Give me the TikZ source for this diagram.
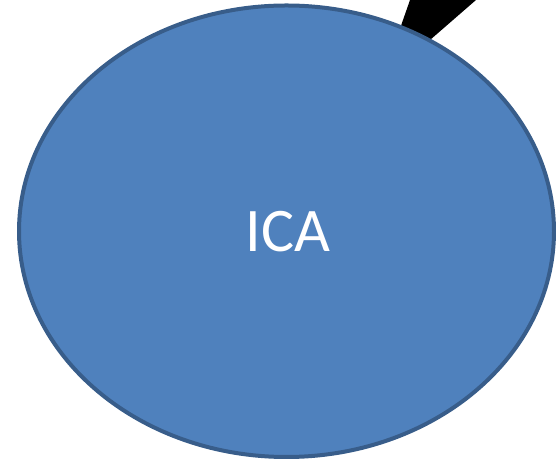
\documentclass[tikz,border=0pt]{standalone}
\usepackage{fontspec}
\usetikzlibrary{shapes.geometric}
\setmainfont{Carlito}
\definecolor{icafill}{HTML}{4F81BD}
\definecolor{icaline}{HTML}{385D8A}
\begin{document}
\begin{tikzpicture}[x=1pt,y=1pt,
  bubble/.style={ellipse, fill=icafill, draw=icaline, line width=4pt,
    minimum width=535pt, minimum height=451.5pt, inner sep=0pt, outer sep=0pt},
  bubbletext/.style={text=white, font=\fontsize{62}{70}\selectfont}]
\useasboundingbox (0,0) rectangle (556,462);
\fill[black] (410,462) -- (476,462) -- (430,422) -- (396,422) -- cycle;
\node[bubble] (ell) at (286.5,230.75) {};
\node[bubbletext, anchor=base] (ica) at (288,210) {ICA};
\end{tikzpicture}
\end{document}
